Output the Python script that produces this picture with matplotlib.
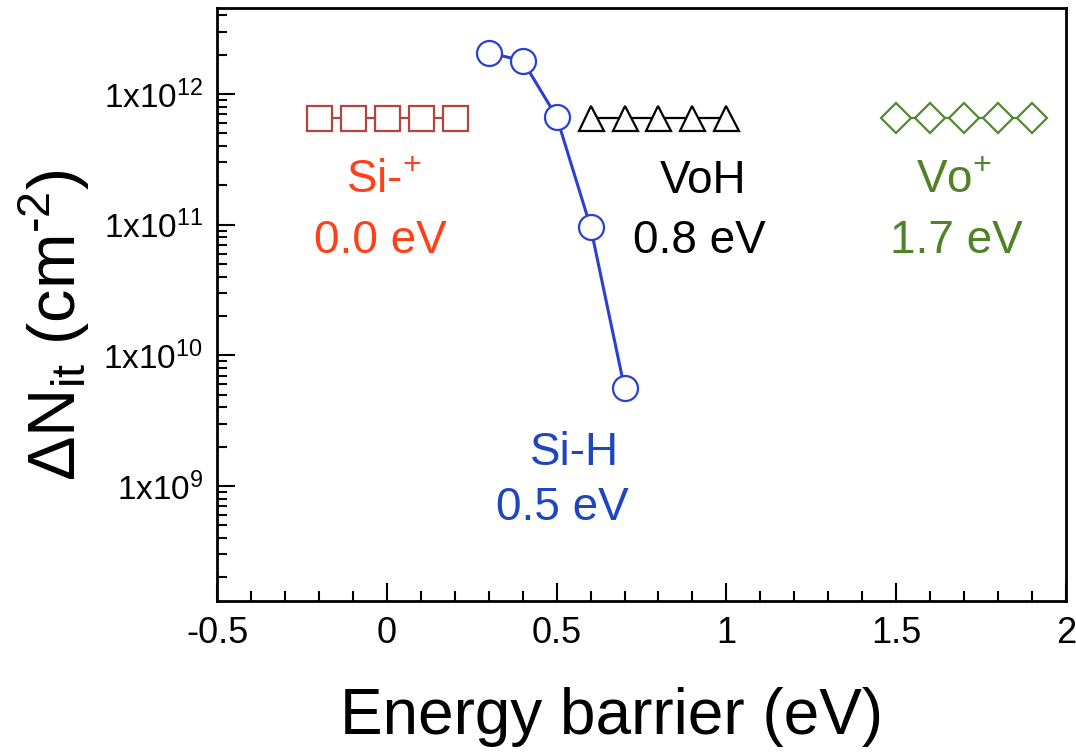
#!/usr/bin/env python3
from __future__ import annotations

import math

import matplotlib

matplotlib.use("Agg")
import matplotlib.pyplot as plt
from matplotlib.ticker import FuncFormatter, LogLocator, MultipleLocator

# defect data: energy barrier (eV) vs delta N_it (cm^-2)
si_plus_x = [-0.2, -0.1, 0.0, 0.1, 0.2]
si_plus_y = [6.6e11, 6.6e11, 6.6e11, 6.6e11, 6.6e11]

si_h_x = [0.3, 0.4, 0.5, 0.6, 0.7]
si_h_y = [2.07e12, 1.80e12, 6.7e11, 9.6e10, 5.6e9]

voh_x = [0.6, 0.7, 0.8, 0.9, 1.0]
voh_y = [6.6e11, 6.6e11, 6.6e11, 6.6e11, 6.6e11]

vo_plus_x = [1.5, 1.6, 1.7, 1.8, 1.9]
vo_plus_y = [6.6e11, 6.6e11, 6.6e11, 6.6e11, 6.6e11]

x_ticks = [-0.5, 0, 0.5, 1, 1.5, 2]
y_ticks = [1e9, 1e10, 1e11, 1e12]


def main() -> None:
    plt.rcParams["font.family"] = ["Liberation Sans", "DejaVu Sans"]
    plt.rcParams["mathtext.fontset"] = "custom"
    plt.rcParams["mathtext.rm"] = "Liberation Sans"
    plt.rcParams["mathtext.it"] = "Liberation Sans:italic"
    plt.rcParams["mathtext.bf"] = "Liberation Sans:bold"
    plt.rcParams["axes.unicode_minus"] = False

    fig = plt.figure(figsize=(10.76, 7.53), dpi=100)
    ax = fig.add_axes([0.2017, 0.2019, 0.789, 0.7875])

    ax.plot(si_plus_x, si_plus_y, "-s", color="#b4453d", mfc="white", ms=18, mew=1.6, lw=1.6)
    ax.plot(voh_x, voh_y, "-^", color="black", mfc="white", ms=18, mew=1.6, lw=1.6)
    ax.plot(vo_plus_x, vo_plus_y, "-D", color="#4f8a30", mfc="white", ms=15.5, mew=1.6, lw=1.6)
    ax.plot(si_h_x, si_h_y, "-o", color="#2b3fd0", mfc="white", ms=18, mew=1.6, lw=2.2, zorder=4)

    ax.set_yscale("log")
    ax.set_xlim(-0.5, 2.0)
    ax.set_ylim(1.315e8, 4.56e12)

    ax.set_xticks(x_ticks)
    ax.xaxis.set_minor_locator(MultipleLocator(0.1))
    ax.xaxis.set_major_formatter(FuncFormatter(lambda v, _: f"{v:g}"))

    ax.set_yticks(y_ticks)
    ax.yaxis.set_minor_locator(LogLocator(base=10, subs=range(2, 10)))
    ax.yaxis.set_major_formatter(
        FuncFormatter(lambda v, _: r"$\mathregular{1x10^{%d}}$" % round(math.log10(v)))
    )

    ax.tick_params(which="both", direction="in", top=False, right=False, width=1.5, colors="black")
    ax.tick_params(which="major", length=13)
    ax.tick_params(which="minor", length=7)
    ax.tick_params(axis="x", which="major", labelsize=26, pad=11)
    ax.tick_params(axis="y", which="major", labelsize=24, pad=10)
    for s in ax.spines.values():
        s.set_linewidth(2)

    ax.set_xlabel("Energy barrier (eV)", fontsize=46)
    ax.xaxis.set_label_coords(0.465, -0.145)
    ax.set_ylabel(r"$\mathregular{\Delta N_{it}\ (cm^{\text{-}2})}$", fontsize=48)
    ax.yaxis.set_label_coords(-0.147, 0.465)

    # labels next to each defect
    fs = 33
    ax.text(-0.01, 1.75e11, "Si-$^{+}$", color="#ff4019", fontsize=fs, ha="center", va="baseline")
    ax.text(-0.02, 6.1e10, "0.0 eV", color="#ff4019", fontsize=fs, ha="center", va="baseline")
    ax.text(0.93, 1.75e11, "VoH", color="black", fontsize=fs, ha="center", va="baseline")
    ax.text(0.92, 6.1e10, "0.8 eV", color="black", fontsize=fs, ha="center", va="baseline")
    ax.text(1.67, 1.75e11, "Vo$^{+}$", color="#508228", fontsize=fs, ha="center", va="baseline")
    ax.text(1.676, 6.1e10, "1.7 eV", color="#508228", fontsize=fs, ha="center", va="baseline")
    ax.text(0.553, 1.45e9, "Si-H", color="#1f45bf", fontsize=fs, ha="center", va="baseline")
    ax.text(0.518, 5.5e8, "0.5 eV", color="#1f45bf", fontsize=fs, ha="center", va="baseline")

    fig.savefig("out.png", dpi=100)
    plt.close(fig)


if __name__ == "__main__":
    main()
